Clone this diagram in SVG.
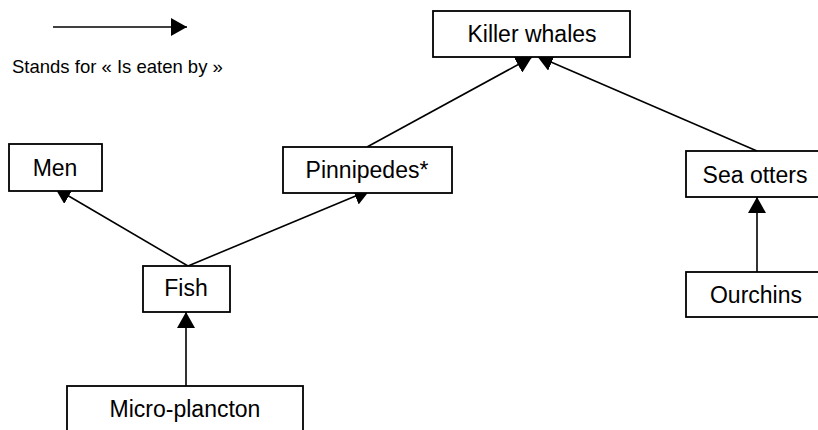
<svg xmlns="http://www.w3.org/2000/svg" width="818" height="430" viewBox="0 0 818 430">
<style>
.box{fill:#fff;stroke:#000;stroke-width:1.8}
.lbl{font-family:"Liberation Sans",Arial,sans-serif;font-size:23px;fill:#000;text-anchor:middle}
.leg{font-family:"Liberation Sans",Arial,sans-serif;font-size:18.5px;fill:#000}
.edge{fill:none;stroke:#000;stroke-width:1.6;marker-end:url(#ah)}
</style>
<defs>
<marker id="ah" markerUnits="userSpaceOnUse" markerWidth="17" markerHeight="18" refX="16" refY="9" orient="auto" viewBox="0 0 17 18">
<path d="M0,0 L16,9 L0,18 z" fill="#000"/>
</marker>
</defs>
<g id="legend">
<line x1="53" y1="27" x2="187" y2="27" class="edge"/>
<text x="12" y="73" class="leg">Stands for « Is eaten by »</text>
</g>
<g id="connectors">
<line x1="188" y1="266" x2="55" y2="188" class="edge"/>
<line x1="188" y1="266" x2="370" y2="190" class="edge"/>
<line x1="186" y1="387" x2="186" y2="312" class="edge"/>
<line x1="367" y1="147" x2="532" y2="57" class="edge"/>
<line x1="757" y1="151" x2="537" y2="56" class="edge"/>
<line x1="757" y1="272" x2="757" y2="197" class="edge"/>
</g>
<g id="killer-whales">
<rect x="433" y="11" width="197" height="46" class="box"/>
<text x="532" y="42" class="lbl">Killer whales</text>
</g>
<g id="men">
<rect x="9" y="144" width="93" height="47" class="box"/>
<text x="55" y="176" class="lbl">Men</text>
</g>
<g id="pinnipedes">
<rect x="283" y="147" width="169" height="46" class="box"/>
<text x="367" y="178" class="lbl">Pinnipedes*</text>
</g>
<g id="sea-otters">
<rect x="686" y="151" width="150" height="46" class="box"/>
<text x="755" y="183" class="lbl">Sea otters</text>
</g>
<g id="fish">
<rect x="143" y="266" width="87" height="46" class="box"/>
<text x="186" y="296" class="lbl">Fish</text>
</g>
<g id="ourchins">
<rect x="686" y="272" width="150" height="45" class="box"/>
<text x="756" y="303" class="lbl">Ourchins</text>
</g>
<g id="micro-plancton">
<rect x="67" y="386" width="236" height="60" class="box"/>
<text x="185" y="417" class="lbl">Micro-plancton</text>
</g>
</svg>
